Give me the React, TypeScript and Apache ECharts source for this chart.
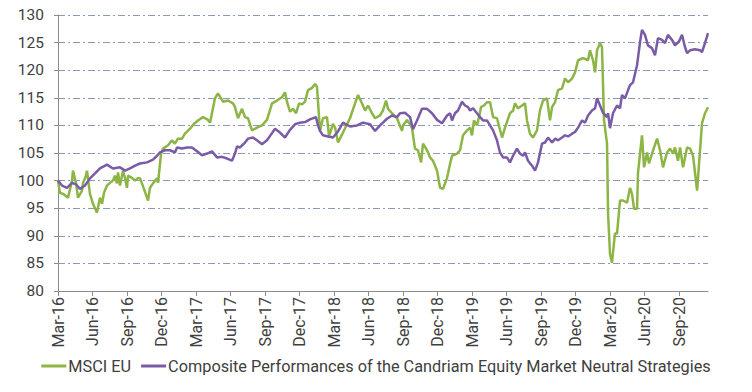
import React, { useEffect, useRef } from "react";
import * as echarts from "echarts";

// x = months elapsed since March 2016
const quarterLabels = [
  "Mar-16", "Jun-16", "Sep-16", "Dec-16", "Mar-17", "Jun-17", "Sep-17", "Dec-17",
  "Mar-18", "Jun-18", "Sep-18", "Dec-18", "Mar-19", "Jun-19", "Sep-19", "Dec-19",
  "Mar-20", "Jun-20", "Sep-20",
];

const msciMonths = [
  0.00, 0.17, 0.43, 0.87, 1.22, 1.30, 1.57, 1.74, 2.09, 2.17, 2.43, 2.52, 2.78, 3.04, 3.39, 3.65,
  3.83, 4.00, 4.26, 4.52, 4.78, 4.96, 5.13, 5.22, 5.39, 5.65, 5.83, 6.00, 6.09, 6.43, 6.70, 6.96,
  7.13, 7.30, 7.83, 8.00, 8.26, 8.61, 8.70, 8.96, 9.13, 9.57, 9.91, 10.17, 10.43, 10.78, 11.04,
  11.48, 11.83, 12.17, 12.61, 13.04, 13.22, 13.65, 13.91, 14.35, 14.78, 15.22, 15.39, 15.65, 16.00,
  16.26, 16.52, 16.87, 17.30, 17.74, 18.17, 18.61, 19.04, 19.48, 19.74, 19.91, 20.17, 20.43, 20.70,
  20.96, 21.22, 21.48, 21.74, 22.09, 22.35, 22.52, 22.78, 23.04, 23.39, 23.57, 23.91, 24.09, 24.35,
  24.78, 25.39, 25.83, 26.09, 26.43, 26.70, 26.96, 27.30, 27.57, 28.00, 28.26, 28.52, 28.70, 29.04,
  29.48, 29.91, 30.00, 30.35, 30.78, 31.04, 31.30, 31.57, 31.74, 32.09, 32.35, 32.61, 32.96, 33.22,
  33.48, 33.83, 34.09, 34.26, 34.70, 34.96, 35.22, 35.57, 35.83, 36.00, 36.17, 36.43, 36.61, 36.78,
  37.04, 37.30, 37.57, 37.83, 38.17, 38.61, 38.87, 39.30, 39.57, 39.74, 40.00, 40.35, 40.61, 40.78,
  41.04, 41.30, 41.65, 41.91, 42.17, 42.52, 42.78, 42.96, 43.22, 43.48, 43.83, 44.09, 44.35, 44.70,
  44.96, 45.22, 45.65, 46.09, 46.26, 46.52, 46.70, 46.87, 47.13, 47.30, 47.48, 47.74, 47.83, 48.00,
  48.17, 48.43, 48.61, 48.87, 49.13, 49.48, 49.74, 49.91, 50.09, 50.35, 50.43, 50.78, 50.96, 51.22,
  51.39, 51.65, 52.09, 52.35, 52.61, 52.96, 53.22, 53.48, 53.65, 53.91, 54.09, 54.35, 54.70, 54.96,
  55.22, 55.57, 56.00, 56.26, 56.52,
];
const msciValues = [
  100, 97.8, 97.6, 96.9, 100, 101.8, 99.5, 96.9, 98.2, 99.5, 100.9, 101.8, 97.6, 95.8, 94.2, 96.9,
  95.8, 97.8, 99.1, 99.6, 100, 100.9, 99.5, 101.5, 99.1, 101.8, 100.4, 98.7, 100.9, 100.5, 100, 100.5,
  100.4, 99.5, 96.4, 98.7, 99.5, 100.4, 99.6, 104.9, 105.8, 106.4, 107.3, 106.7, 107.6, 107.6, 108.5,
  109.4, 110.3, 110.9, 111.5, 111, 110.5, 114.9, 115.8, 114.3, 114.5, 114, 113.3, 111.3, 113,
  111.5, 111.3, 109.1, 109.6, 110, 111, 114, 114.5, 115.1, 116, 114.3, 112.5, 113, 112.2,
  114, 113.8, 114.3, 116.4, 116.8, 117.5, 117, 109, 111.3, 111.5, 108, 110.3, 109.6, 106.9,
  108.7, 111.3, 114, 115.5, 114, 112.7, 113.6, 112.2, 111.3, 111.8, 112.7, 114.5, 113, 112.2,
  111.3, 109, 110, 111, 109.6, 105.8, 105.5, 103.3, 106.7, 105.5, 104.2, 103.6, 101.8, 98.7,
  98.5, 100.5, 103, 104.5, 104.9, 105.5, 108.2, 109.1, 109.6, 108.2, 110.9, 110, 111.5, 113.3,
  113.6, 114.2, 114.2, 111.5, 111.3, 107.8, 109.6, 112.2, 112.7, 114, 113.1, 113.6, 114, 110.9,
  108.5, 107.8, 109.1, 112.7, 114.5, 114.9, 110.9, 113.3, 114.2, 116.4, 116.7, 118.5, 117.8, 118.5,
  119.6, 121.8, 122.2, 121.8, 123.6, 121.8, 119.6, 123.6, 124.9, 124.2, 110.9, 106.7, 94, 86.7,
  85.1, 90.4, 90.4, 96.4, 96.4, 96, 98.7, 97.6, 94.9, 94.9, 101.3, 108.2, 102.4, 105.1,
  103.1, 104.9, 107.6, 105.5, 102.4, 105.1, 105.8, 104.9, 106, 103.6, 106, 102.4, 106, 105.8,
  104.5, 98.2, 110.4, 112.2, 113.3,
];

const compositeMonths = [
  0, 0.35, 0.78, 1.22, 1.57, 1.91, 2.35, 2.78, 3.22, 3.65, 4.26, 4.78, 5.39, 5.83, 6.26, 6.70,
  7.13, 7.74, 8.26, 8.61, 8.87, 9.30, 9.74, 10.17, 10.35, 10.78, 11.22, 11.65, 12.09, 12.52, 12.96,
  13.39, 13.83, 14.26, 14.70, 15.13, 15.39, 15.57, 15.83, 16.26, 16.52, 16.96, 17.30, 17.74, 18.17,
  18.61, 18.87, 19.30, 19.74, 20.17, 20.61, 21.04, 21.48, 21.91, 22.43, 22.61, 22.78, 23.04, 23.48,
  23.91, 24.35, 24.78, 25.39, 26.00, 26.52, 27.13, 27.57, 28.00, 28.61, 29.04, 29.48, 29.74, 30.17,
  30.61, 30.87, 31.22, 31.65, 32.09, 32.52, 32.96, 33.39, 33.83, 34.09, 34.26, 34.52, 34.78, 35.13,
  35.39, 35.65, 35.83, 36.09, 36.43, 36.70, 36.96, 37.30, 37.57, 37.83, 38.17, 38.43, 38.70, 39.04,
  39.30, 39.57, 39.91, 40.17, 40.43, 40.61, 40.87, 41.22, 41.48, 41.74, 42.09, 42.35, 42.61, 42.96,
  43.22, 43.48, 43.83, 44.09, 44.35, 44.70, 44.96, 45.22, 45.57, 45.83, 46.09, 46.43, 46.70, 46.87,
  47.13, 47.39, 47.74, 47.83, 48.00, 48.26, 48.61, 48.87, 49.04, 49.30, 49.57, 49.74, 50.00, 50.35,
  50.61, 50.78, 51.04, 51.30, 51.65, 51.91, 52.17, 52.52, 52.78, 53.04, 53.39, 53.65, 54.00, 54.26,
  54.52, 54.70, 54.96, 55.39, 55.83, 56.00, 56.26, 56.52,
];
const compositeValues = [
  100, 99.1, 98.7, 99.6, 99.3, 98.5, 99.1, 100.4, 101.3, 102.2, 102.9, 102.2, 102.4, 101.8, 102.2, 102.7,
  103.1, 103.3, 103.8, 104.5, 105.1, 105.5, 105.5, 105.1, 106, 105.8, 106, 106, 105.3, 104.6, 104.9,
  105.3, 104.2, 104.3, 104, 103.6, 104.9, 106.2, 106, 106.9, 107.6, 107.8, 107.3, 106.6, 107.3,
  108.6, 109.4, 108.7, 107.8, 109.2, 110.2, 110.5, 110.6, 111.1, 111.5, 110, 109, 108.2, 108,
  107.8, 108.9, 110.5, 109.8, 110, 110.5, 110.2, 109, 110, 111.2, 111.8, 111.5, 112.2, 112.3,
  111.5, 109.3, 110.9, 113, 113, 112.2, 111, 110.4, 111.8, 112.2, 110.9, 112.2, 112.7, 114.3,
  113.6, 113.3, 112.7, 113.1, 112.2, 111.5, 110.9, 110.9, 110, 109.1, 107.3, 105.1, 104.2, 104.2,
  103.3, 104.5, 105.8, 104.9, 104.5, 105.1, 103.6, 102.7, 101.8, 103.3, 106.7, 106.9, 107.8, 106.9,
  107.6, 107.3, 107.8, 108.2, 108, 108.5, 108.8, 109.6, 110.9, 110.5, 111.8, 112.7, 113.1, 114.9,
  113.6, 112.3, 111.5, 112.2, 109.5, 112.2, 113.6, 113.1, 115.5, 114.9, 116.4, 117.3, 117.8, 120.9,
  125.1, 127.3, 126.4, 124.5, 124, 122.7, 125.8, 125.5, 124.9, 126.4, 125.5, 124.5, 125.2, 126.4,
  124.2, 123.1, 123.6, 123.8, 123.6, 123.3, 124.9, 126.7,
];

const FONT = "Roboto, 'Liberation Sans', sans-serif";

export default function App() {
  const ref = useRef<HTMLDivElement>(null);
  useEffect(() => {
    if (!ref.current) return;
    const chart = echarts.init(ref.current, null, { renderer: "svg" });
    const zip = (xs: number[], ys: number[]) => xs.map((x, i) => [x, ys[i]]);
    chart.setOption({
      animation: false,
      backgroundColor: "#ffffff",
      textStyle: { fontFamily: FONT },
      grid: { left: 58, right: 44, top: 15, bottom: 101, containLabel: false },
      legend: {
        bottom: 13,
        left: "center",
        itemWidth: 25,
        itemHeight: 3,
        itemGap: 10,
        icon: "rect",
        textStyle: { fontFamily: FONT, fontSize: 16.3, color: "#404040", padding: [0, 0, 0, -3] },
        data: ["MSCI EU", "Composite Performances of the Candriam Equity Market Neutral Strategies"],
      },
      xAxis: {
        type: "value",
        min: 0,
        max: 56.52,
        interval: 3,
        splitLine: { show: false },
        axisLine: { lineStyle: { color: "#8c8c8c", width: 1 } },
        axisTick: { show: true, length: 5, lineStyle: { color: "#8c8c8c" } },
        axisLabel: {
          rotate: 90,
          margin: 6,
          fontSize: 16,
          color: "#404040",
          fontFamily: FONT,
          showMaxLabel: false,
          formatter: (v: number) => {
            const i = Math.round(v / 3);
            return Math.abs(v - i * 3) < 1e-6 && quarterLabels[i] ? quarterLabels[i] : "";
          },
        },
      },
      yAxis: {
        type: "value",
        min: 80,
        max: 130,
        interval: 5,
        axisLine: { show: true, lineStyle: { color: "#8c8c8c", width: 1 } },
        axisTick: { show: true, length: 4, lineStyle: { color: "#8c8c8c" } },
        axisLabel: { fontSize: 15.5, color: "#404040", margin: 14, fontFamily: FONT },
        splitLine: {
          show: true,
          lineStyle: { color: "#8a98ba", width: 1, type: [7, 3, 2, 3] },
        },
      },
      series: [
        {
          name: "MSCI EU",
          type: "line",
          data: zip(msciMonths, msciValues),
          showSymbol: false,
          symbol: "none",
          lineStyle: { color: "#8db545", width: 2.5 },
          itemStyle: { color: "#8db545" },
          z: 2,
        },
        {
          name: "Composite Performances of the Candriam Equity Market Neutral Strategies",
          type: "line",
          data: zip(compositeMonths, compositeValues),
          showSymbol: false,
          symbol: "none",
          lineStyle: { color: "#7a5ca6", width: 2.5 },
          itemStyle: { color: "#7a5ca6" },
          z: 3,
        },
      ],
    });
    return () => chart.dispose();
  }, []);
  return <div ref={ref} style={{ width: 752, height: 392, position: "absolute", left: 0, top: 0 }} />;
}
